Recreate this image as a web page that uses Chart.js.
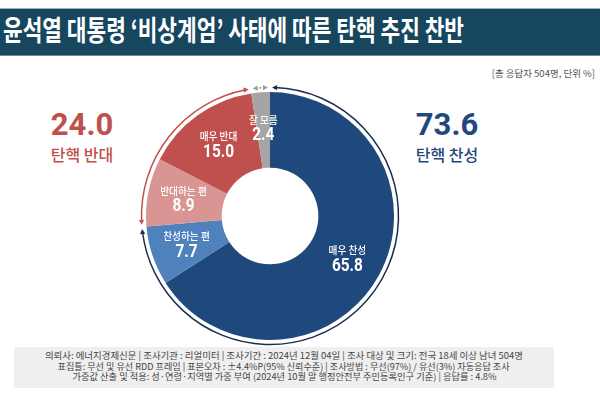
<!DOCTYPE html>
<html><head><meta charset="utf-8">
<script src="https://cdn.jsdelivr.net/npm/chart.js@4/dist/chart.umd.min.js"></script>
<style>
html,body{margin:0;padding:0;background:#fff;}
#wrap{position:relative;width:600px;height:399px;overflow:hidden;font-family:"Noto Sans CJK KR","Noto Sans",sans-serif;}
#bar{position:absolute;left:0;top:9px;width:600px;height:46px;background:#17475f;box-shadow:0 -1px 0 #9fb2bd,0 1px 0 #6f8a99;}
#title{position:absolute;left:3px;top:15px;line-height:28px;font-size:28px;font-weight:700;color:#fff;white-space:nowrap;transform-origin:0 50%;}
#unit{position:absolute;right:5px;top:68px;font-size:9.5px;line-height:10px;color:#555;white-space:nowrap;}
.big{position:absolute;width:120px;text-align:center;font-family:Roboto,"Noto Sans",sans-serif;font-weight:700;font-size:31px;line-height:31px;top:109px;}
.sub{position:absolute;width:120px;text-align:center;font-size:16px;line-height:16px;font-weight:500;top:146px;}
#c{position:absolute;left:0;top:0;}
#note{position:absolute;left:14px;top:347px;width:540px;height:41px;background:#efefef;}
.nl{position:absolute;left:0;width:540px;text-align:center;font-size:9px;line-height:9px;color:#444;white-space:nowrap;}
.nl span{display:inline-block;transform-origin:50% 50%;}
</style>
</head><body>
<div id="wrap">
  <div id="bar"></div>
  <div id="title" data-w="461"></div>
  <div id="unit"></div>
  <div class="big" id="bigL" style="left:22px;color:#c0504d"></div>
  <div class="sub" id="subL" style="left:22px;color:#c0504d"></div>
  <div class="big" id="bigR" style="left:387px;color:#1f497d"></div>
  <div class="sub" id="subR" style="left:387px;color:#1f497d"></div>
  <div id="note">
    <div class="nl" style="top:4px"><span data-w="478"></span></div>
    <div class="nl" style="top:14.5px"><span data-w="452"></span></div>
    <div class="nl" style="top:25px"><span data-w="424"></span></div>
  </div>
  <canvas id="c" width="600" height="399"></canvas>
</div>
<script>
// ---- data ----
const titleText = "윤석열 대통령 ‘비상계엄’ 사태에 따른 탄핵 추진 찬반";
const unitText = "[총 응답자 504명, 단위 %]";
const categories = ["매우 찬성", "찬성하는 편", "반대하는 편", "매우 반대", "잘 모름"];
const values = [65.8, 7.7, 8.9, 15.0, 2.4];
const sliceColors = ["#1f497d", "#4f81bd", "#d99594", "#c0504d", "#a5a5a5"];
const groupLabels = ["탄핵 반대", "탄핵 찬성"];
const groupValues = [24.0, 73.6];
const noteLines = [
  "의뢰사: 에너지경제신문  | 조사기관 : 리얼미터  |  조사기간 : 2024년 12월 04일 | 조사 대상 및 크기: 전국 18세 이상 남녀 504명",
  "표집틀: 무선 및 유선 RDD 프레임 | 표본오차 : ±4.4%P(95%  신뢰수준) | 조사방법 : 무선(97%) / 유선(3%) 자동응답 조사",
  "가중값 산출 및 적용: 성·연령·지역별 가중 부여 (2024년 10월 말 행정안전부  주민등록인구  기준) | 응답률 : 4.8%"
];
// arrow groups: [first slice index, last slice index, color, dashed]
const arrowGroups = [[0, 1, "#1b2f4d", false], [2, 3, "#c0504d", false], [4, 4, "#9a9a9a", true]];

// ---- text ----
document.getElementById('title').textContent = titleText;
document.getElementById('unit').textContent = unitText;
document.getElementById('bigL').textContent = groupValues[0].toFixed(1);
document.getElementById('subL').textContent = groupLabels[0];
document.getElementById('bigR').textContent = groupValues[1].toFixed(1);
document.getElementById('subR').textContent = groupLabels[1];
document.querySelectorAll('.nl span').forEach((s, i) => s.textContent = noteLines[i]);
function fit(el) {
  const w = el.getBoundingClientRect().width;
  const t = parseFloat(el.dataset.w);
  if (w > 0) el.style.transform = 'scaleX(' + (t / w) + ')';
}
fit(document.getElementById('title'));
document.querySelectorAll('.nl span').forEach(fit);

// ---- plugin ----
const deco = {
  id: 'deco',
  afterDatasetsDraw(chart) {
    const ctx = chart.ctx;
    const arcs = chart.getDatasetMeta(0).data;
    const cx = arcs[0].x, cy = arcs[0].y;
    const R = arcs[0].outerRadius;
    const rIn = arcs[0].innerRadius;
    // labels
    arcs.forEach((a, i) => {
      const mid = (a.startAngle + a.endAngle) / 2;
      const r = (R + rIn) / 2 + 2;
      const x = cx + Math.cos(mid) * r, y = cy + Math.sin(mid) * r;
      ctx.save();
      ctx.fillStyle = '#fff';
      ctx.textAlign = 'center';
      ctx.textBaseline = 'middle';
      ctx.font = '500 10.5px "Noto Sans CJK KR"';
      ctx.save();
      ctx.translate(x, y - 8);
      ctx.scale(0.92, 1);
      ctx.fillText(categories[i], 0, 0);
      ctx.restore();
      ctx.font = 'bold 17.5px Roboto';
      ctx.translate(x, y + 8);
      ctx.scale(0.88, 1);
      ctx.fillText(values[i].toFixed(1), 0, 0);
      ctx.restore();
    });
    // arrows
    const ra = R + 4.5;
    const pad = 0.016;
    arrowGroups.forEach(g => {
      const a0 = arcs[g[0]].startAngle + pad;
      const a1 = arcs[g[1]].endAngle - pad;
      ctx.save();
      ctx.strokeStyle = g[2];
      ctx.fillStyle = g[2];
      ctx.lineWidth = 1.5;
      if (g[3]) ctx.setLineDash([2, 2]);
      ctx.beginPath();
      ctx.arc(cx, cy, ra, a0 + 0.02, a1 - 0.02);
      ctx.stroke();
      ctx.setLineDash([]);
      const head = (ang, sgn) => {
        const tx = cx + Math.cos(ang) * ra, ty = cy + Math.sin(ang) * ra;
        // tangent in direction of increasing angle
        const dx = -Math.sin(ang) * sgn, dy = Math.cos(ang) * sgn;
        const nx = Math.cos(ang), ny = Math.sin(ang);
        const L = 5, W = 2.6;
        ctx.beginPath();
        ctx.moveTo(tx, ty);
        ctx.lineTo(tx - dx * L + nx * W, ty - dy * L + ny * W);
        ctx.lineTo(tx - dx * L - nx * W, ty - dy * L - ny * W);
        ctx.closePath();
        ctx.fill();
      };
      head(a0, -1);
      head(a1, 1);
      ctx.restore();
    });
  }
};

new Chart(document.getElementById('c'), {
  type: 'doughnut',
  data: {
    labels: categories,
    datasets: [{ data: values, backgroundColor: sliceColors, borderWidth: 0, hoverOffset: 0 }]
  },
  options: {
    responsive: false,
    animation: false,
    cutout: '39%',
    layout: { padding: { left: 146, right: 206, top: 92, bottom: 59 } },
    plugins: { legend: { display: false }, tooltip: { enabled: false } },
    events: []
  },
  plugins: [deco]
});
</script>
</body></html>
